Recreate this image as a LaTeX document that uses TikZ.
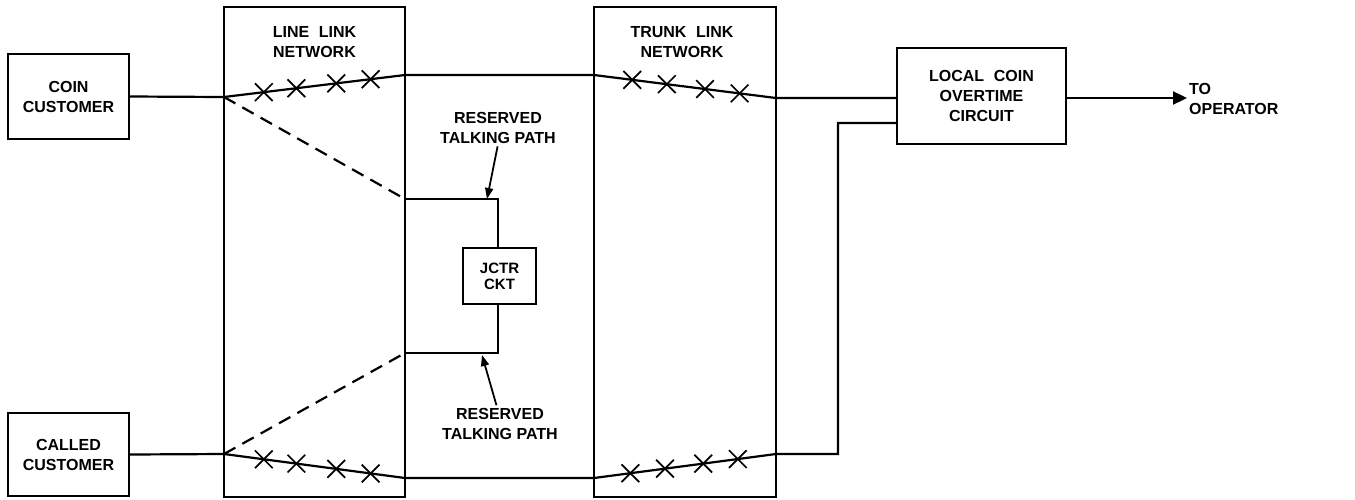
\documentclass[tikz,border=0pt]{standalone}
\usepackage{fontspec}
\setmainfont{Liberation Sans}
\usetikzlibrary{arrows.meta,shapes.misc,calc}
\newcommand\dlabfont{\fontsize{16}{20}\selectfont\bfseries}
\begin{document}
\begin{tikzpicture}[x=1pt,y=-1pt,
  box/.style={draw,line width=2pt,inner sep=0pt,align=center,font=\dlabfont},
  netbox/.style={draw,line width=2pt,inner sep=0pt},
  lab/.style={inner sep=1pt,align=center,font=\dlabfont},
  wire/.style={line width=2.2pt,line join=miter},
  dwire/.style={line width=2.2pt,dash pattern=on 13pt off 8pt},
  xm/.style={cross out,draw,line width=1.7pt,minimum size=16pt,inner sep=0pt},
  ptr/.style={line width=1.8pt,-{Triangle[length=11pt,width=8pt]}},
  bigptr/.style={line width=2.2pt,-{Triangle[length=14pt,width=13pt]}}]
\useasboundingbox (0,0) rectangle (1355,499);

% boxes
\node[box,minimum width=121pt,minimum height=85pt] (coin) at (68.5,96.5) {COIN\\CUSTOMER};
\node[box,minimum width=121pt,minimum height=83pt] (called) at (68.5,454.5) {CALLED\\CUSTOMER};
\node[netbox,minimum width=181pt,minimum height=490pt] (lln) at (314.5,252) {};
\node[netbox,minimum width=182pt,minimum height=490pt] (tln) at (685,252) {};
\node[box,minimum width=169pt,minimum height=96pt] (loc) at (981.5,96) {LOCAL\hspace{0.6em}COIN\\OVERTIME\\CIRCUIT};
\node[box,minimum width=73pt,minimum height=56pt,font=\fontsize{15}{16}\selectfont\bfseries] (jctr) at (499.5,276) {JCTR\\CKT};

% labels
\node[lab] (llnt) at (314.5,42.5) {LINE\hspace{0.6em}LINK\\NETWORK};
\node[lab] (tlnt) at (682,42.5) {TRUNK\hspace{0.6em}LINK\\NETWORK};
\node[lab] (rtop) at (498,127.5) {RESERVED\\TALKING PATH};
\node[lab] (rbot) at (500,424) {RESERVED\\TALKING PATH};
\node[lab,align=left,anchor=west] (op) at (1188,99) {TO\\OPERATOR};

% coordinates
\coordinate (c1) at (224,97);
\coordinate (c2) at (405,75);
\coordinate (c3) at (594,75);
\coordinate (c4) at (776,98);
\coordinate (c5) at (224,454);
\coordinate (c6) at (405,478);
\coordinate (c7) at (594,478);
\coordinate (c8) at (776,454);
\coordinate (d1) at (405,199);
\coordinate (d2) at (405,353);
\coordinate (j1) at (498,199);
\coordinate (j2) at (498,353);
\coordinate (in1) at (897,98);
\coordinate (in2) at (897,123);
\coordinate (k1) at (838,123);
\coordinate (k2) at (838,454);
\coordinate (opend) at (1187,98);
\coordinate (at1) at (487,199);
\coordinate (at2) at (482,355);

% top talking path
\draw[wire] (coin.east) -- (c1)
  -- node[xm,pos=.22] (x1) {} node[xm,pos=.40] (x2) {} node[xm,pos=.62] (x3) {} node[xm,pos=.81] (x4) {} (c2)
  -- (c3)
  -- node[xm,pos=.21] (x5) {} node[xm,pos=.40] (x6) {} node[xm,pos=.61] (x7) {} node[xm,pos=.80] (x8) {} (c4)
  -- (in1);

% bottom talking path
\draw[wire] (called.east) -- (c5)
  -- node[xm,pos=.22] (x9) {} node[xm,pos=.40] (x10) {} node[xm,pos=.62] (x11) {} node[xm,pos=.81] (x12) {} (c6)
  -- (c7)
  -- node[xm,pos=.20] (x13) {} node[xm,pos=.39] (x14) {} node[xm,pos=.60] (x15) {} node[xm,pos=.79] (x16) {} (c8)
  -- (k2) -- (k1) -- (in2);

% reserved paths
\draw[dwire] (c1) -- (d1);
\draw[dwire] (c5) -- (d2);
\draw[wire] (d1) -- (j1) -- (jctr.north -| j1);
\draw[wire] (jctr.south -| j2) -- (j2) -- (d2);

% pointers
\draw[ptr,shorten <=2pt] (rtop.south) -- (at1);
\draw[ptr,shorten <=2pt] ([xshift=-3pt]rbot.north) -- (at2);
\draw[bigptr] (loc.east |- opend) -- (opend);
\end{tikzpicture}
\end{document}
